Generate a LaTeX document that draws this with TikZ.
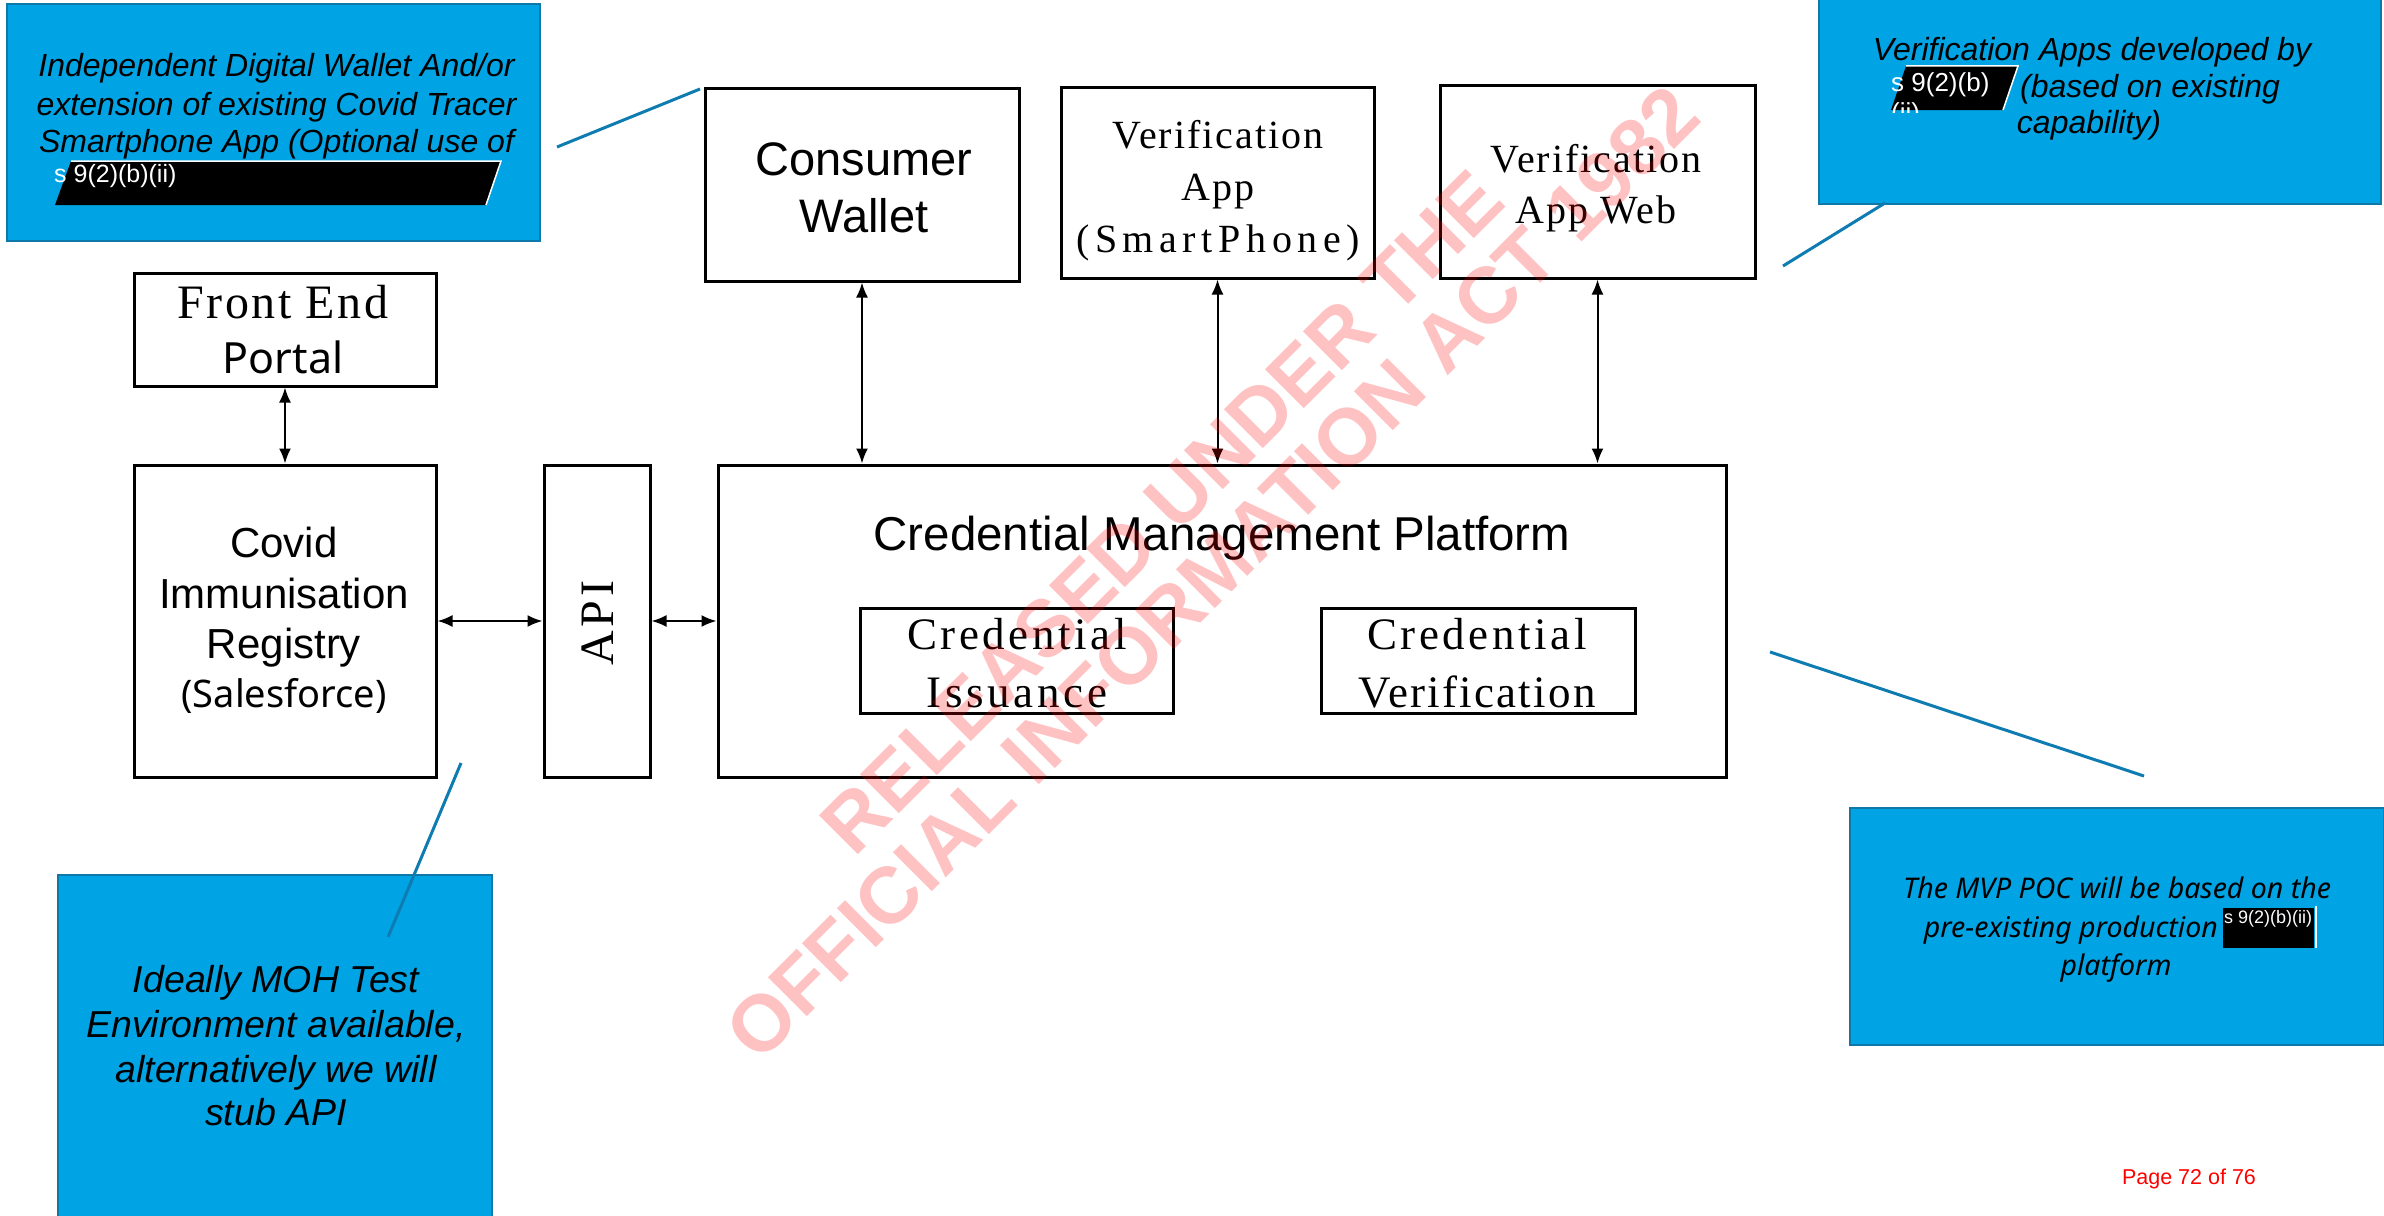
\documentclass[tikz,border=0pt]{standalone}
\usepackage{fontspec}
\setmainfont{Liberation Sans}
\newfontfamily\arialf{Liberation Sans}
\newfontfamily\serifls{Liberation Serif}[LetterSpace=5]
\newfontfamily\notof{Noto Sans}
\newcommand\setfs[2]{\fontsize{#1}{#2}\selectfont}
\usetikzlibrary{arrows.meta}
\definecolor{calfill}{RGB}{0,164,228}
\definecolor{calborder}{RGB}{16,120,168}
\definecolor{ptrcol}{RGB}{14,124,176}
\tikzset{
  box/.style={draw=black, line width=3pt, inner sep=0pt},
  callout/.style={draw=calborder, fill=calfill, line width=2.5pt, inner sep=0pt},
  ptr/.style={draw=ptrcol, line width=3pt},
  biarrow/.style={{Latex[length=15pt,width=12pt]}-{Latex[length=15pt,width=12pt]}, line width=2pt},
  txt/.style={inner sep=0pt, anchor=base},
  wtxt/.style={inner sep=0pt, anchor=base west, text=white, font=\arialf\setfs{25}{30}},
  redact/.style={fill=black},
  redactedge/.style={draw=white, line width=1.5pt},
  wmark/.style={inner sep=0pt, text=red, text opacity=0.24, font=\arialf\bfseries\setfs{80}{90}, rotate=45}
}
\begin{document}
\begin{tikzpicture}[x=1pt, y=-1pt]
\useasboundingbox (0,0) rectangle (2384,1215);

% ---------- callouts ----------
\node[callout, minimum width=533pt, minimum height=237pt] (c1) at (273.5,122.5) {};
\node[callout, minimum width=562pt, minimum height=224pt] (c2) at (2100,92) {};
\node[callout, minimum width=534pt, minimum height=237pt] (c3) at (2117,926.5) {};
\node[callout, minimum width=434pt, minimum height=350pt] (c4) at (275,1050) {};

% left callout text
\node[txt, font=\arialf\itshape\setfs{32}{37.5}] (c1t1) at (276.5,77) {Independent Digital Wallet And/or};
\node[txt, font=\arialf\itshape\setfs{32}{37.5}] (c1t2) at (276.5,115) {extension of existing Covid Tracer};
\node[txt, font=\arialf\itshape\setfs{32}{37.5}] (c1t3) at (276.5,152) {Smartphone App (Optional use of};
\fill[redact] (71,161) -- (501,161) -- (486,205) -- (55,205) -- cycle;
\draw[redactedge] (71,161) -- (501,161) -- (486,205);
\node[wtxt] (c1r) at (54,182) {s 9(2)(b)(ii)};

% right top callout text
\node[txt, font=\arialf\itshape\setfs{32}{37.5}] (c2t1) at (2092,60) {Verification Apps developed by};
\fill[redact] (1906,66) -- (2018,66) -- (2003,110) -- (1891,110) -- cycle;
\draw[redactedge] (1906,66) -- (2018,66) -- (2003,110);
\node[wtxt, font=\arialf\setfs{26}{30}] (c2r) at (1891,91) {s 9(2)(b)};
\begin{scope}
\clip (1880,96) rectangle (1940,112);
\node[wtxt, font=\arialf\setfs{26}{30}] (c2r2) at (1891,121) {(ii)};
\end{scope}
\node[txt, anchor=base west, font=\arialf\itshape\setfs{32}{37.5}] (c2t2) at (2020,97) {(based on existing};
\node[txt, font=\arialf\itshape\setfs{32}{37.5}] (c2t3) at (2089,133) {capability)};

% MVP callout text
\node[txt, font=\notof\itshape\setfs{28.5}{38}] (c3t1) at (2117,898) {The MVP POC will be based on the};
\node[txt, anchor=base east, font=\notof\itshape\setfs{28.5}{38}] (c3t2) at (2218,937) {pre-existing production};
\fill[redact] (2223,908) rectangle (2314,948);
\draw[redactedge] (2316,906) -- (2316,948);
\node[wtxt, font=\arialf\setfs{18}{20}] (c3r) at (2224,923) {s 9(2)(b)(ii)};
\node[txt, font=\notof\itshape\setfs{28.5}{38}] (c3t3) at (2116,975) {platform};

% Ideally callout text
\node[txt, font=\arialf\itshape\setfs{37.5}{44}] (c4t1) at (276,992) {Ideally MOH Test};
\node[txt, font=\arialf\itshape\setfs{37.5}{44}] (c4t2) at (276,1037) {Environment available,};
\node[txt, font=\arialf\itshape\setfs{37.5}{44}] (c4t3) at (276,1082) {alternatively we will};
\node[txt, font=\arialf\itshape\setfs{37.5}{44}] (c4t4) at (276,1125) {stub API};

% ---------- pointer lines ----------
\coordinate (p1a) at (557,147); \coordinate (p1b) at (700,89);
\coordinate (p2a) at (1783,266); \coordinate (p2b) at (1885,203);
\coordinate (p3a) at (1770,652); \coordinate (p3b) at (2144,776);
\coordinate (p4a) at (461,763); \coordinate (p4b) at (388,937);
\draw[ptr] (p1a) -- (p1b);
\draw[ptr] (p2a) -- (p2b);
\draw[ptr] (p3a) -- (p3b);
\draw[ptr] (p4a) -- (p4b);

% ---------- boxes ----------
\node[box, minimum width=302pt, minimum height=113pt] (fep) at (285,329.5) {};
\node[box, minimum width=302pt, minimum height=312pt] (cir) at (285,621) {};
\node[box, minimum width=106pt, minimum height=312pt] (api) at (597,621) {};
\node[box, minimum width=1008pt, minimum height=312pt] (cmp) at (1222,621) {};
\node[box, minimum width=313pt, minimum height=105pt] (ci) at (1016.5,660.5) {};
\node[box, minimum width=314pt, minimum height=105pt] (cv) at (1478,660.5) {};
\node[box, minimum width=314pt, minimum height=193pt] (cw) at (862,184.5) {};
\node[box, minimum width=313pt, minimum height=191pt] (va) at (1217.5,182.5) {};
\node[box, minimum width=315pt, minimum height=193pt] (vw) at (1597.5,181.5) {};

% box texts
\node[txt, font=\serifls\setfs{48}{52}] (fept1) at (283,318) {Front End};
\node[txt, font=\notof\setfs{43}{52}] (fept2) at (283,373) {Portal};

\node[txt, font=\arialf\setfs{42}{50}] (cirt1) at (284,557) {Covid};
\node[txt, font=\arialf\setfs{42}{50}] (cirt2) at (284,608) {Immunisation};
\node[txt, font=\arialf\setfs{42}{50}] (cirt3) at (284,658) {Registry};
\node[txt, font=\notof\setfs{38}{50}] (cirt4) at (284,707) {(Salesforce)};

\node[inner sep=0pt, rotate=90, font=\serifls\setfs{48}{52}\addfontfeature{LetterSpace=8}] (apit) at (598,623) {API};

\node[txt, font=\arialf\setfs{47.5}{56}] (cmpt) at (1222,550) {Credential Management Platform};

\node[txt, font=\serifls\setfs{45}{58}\addfontfeature{LetterSpace=8}] (cit1) at (1017,649) {Credential};
\node[txt, font=\serifls\setfs{45}{58}\addfontfeature{LetterSpace=8}] (cit2) at (1017,707) {Issuance};
\node[txt, font=\serifls\setfs{45}{58}\addfontfeature{LetterSpace=8}] (cvt1) at (1477,649) {Credential};
\node[txt, font=\serifls\setfs{45}{58}] (cvt2) at (1477,707) {Verification};

\node[txt, font=\arialf\setfs{47}{57}] (cwt1) at (864,175) {Consumer};
\node[txt, font=\arialf\setfs{47}{57}] (cwt2) at (864,232) {Wallet};

\node[txt, font=\serifls\setfs{40}{52}] (vat1) at (1218,148) {Verification};
\node[txt, font=\serifls\setfs{40}{52}] (vat2) at (1218,200) {App};
\node[txt, font=\serifls\setfs{40}{52}\addfontfeature{LetterSpace=14}] (vat3) at (1218,252) {(SmartPhone)};

\node[txt, font=\serifls\setfs{40}{52}] (vwt1) at (1596,172) {Verification};
\node[txt, font=\serifls\setfs{40}{52}] (vwt2) at (1596,223) {App Web};

% ---------- arrows ----------
\draw[biarrow] (fep.south) -- (cir.north);
\draw[biarrow] (cir.east) -- (api.west);
\draw[biarrow] (api.east) -- (cmp.west);
\draw[biarrow] (cw.south) -- (cw.south |- cmp.north);
\draw[biarrow] (va.south) -- (va.south |- cmp.north);
\draw[biarrow] (vw.south) -- (vw.south |- cmp.north);

% page number
\node[txt, text=red, font=\arialf\setfs{21.5}{26}] (page) at (2189,1184) {Page 72 of 76};

% watermark
\node[wmark] (wm1) at (1162,512) {RELEASED UNDER THE};
\node[wmark] (wm2) at (1212,573) {OFFICIAL INFORMATION ACT 1982};
\end{tikzpicture}
\end{document}
